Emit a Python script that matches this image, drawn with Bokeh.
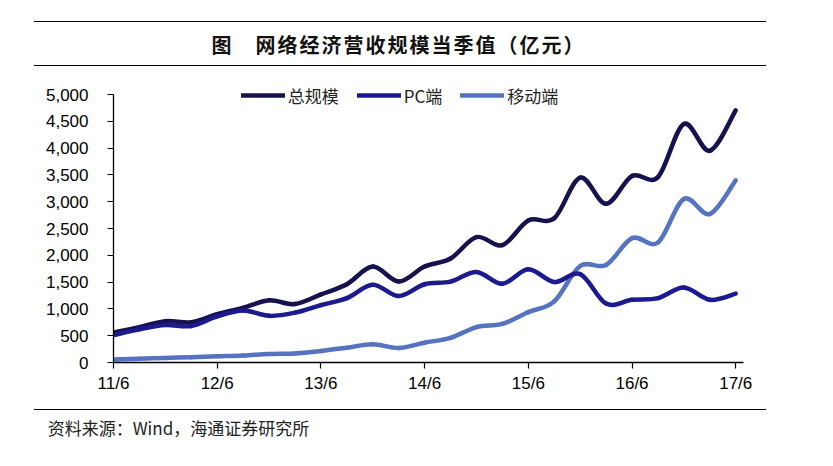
from bokeh.plotting import figure
from bokeh.layouts import column
from bokeh.models import (Range1d, FixedTicker, NumeralTickFormatter, Legend,
                          LegendItem, Div)
from bokeh.embed import file_html
from bokeh.resources import INLINE

# ---------------- data ----------------
quarters = ["11/6", "11/9", "11/12", "12/3", "12/6", "12/9", "12/12", "13/3",
            "13/6", "13/9", "13/12", "14/3", "14/6", "14/9", "14/12", "15/3",
            "15/6", "15/9", "15/12", "16/3", "16/6", "16/9", "16/12", "17/3", "17/6"]
total = [560, 660, 770, 750, 900, 1020, 1160, 1090, 1270, 1460, 1790, 1510, 1790,
         1940, 2340, 2190, 2650, 2690, 3450, 2960, 3480, 3460, 4450, 3950, 4705]
pc = [510, 620, 700, 680, 860, 970, 870, 930, 1070, 1200, 1450, 1240, 1460,
      1510, 1690, 1470, 1740, 1500, 1650, 1100, 1170, 1200, 1400, 1170, 1285]
mobile = [55, 70, 85, 100, 115, 130, 160, 170, 215, 275, 340, 270, 370,
          460, 660, 720, 940, 1140, 1800, 1820, 2320, 2240, 3050, 2770, 3400]
tick_labels = ["11/6", "12/6", "13/6", "14/6", "15/6", "16/6", "17/6"]
y_ticks = [0, 500, 1000, 1500, 2000, 2500, 3000, 3500, 4000, 4500, 5000]
series_names = ["总规模", "PC端", "移动端"]
title_text = "图　网络经济营收规模当季值（亿元）"
source_text = "资料来源：Wind，海通证券研究所"

colors = {"总规模": "#15124e", "PC端": "#1b1a8e", "移动端": "#5573c0"}

W = 817
CJK = "Noto Sans CJK SC"

# ---------------- header (title between two rules) ----------------
HH = 80
header_html = (
    f'<div style="position:relative;width:{W}px;height:{HH}px;background:white;">'
    '<div style="position:absolute;left:34px;top:20.6px;width:732px;height:0;'
    'border-top:1.4px solid #000;"></div>'
    '<div style="position:absolute;left:34px;top:64.6px;width:732px;height:0;'
    'border-top:1.4px solid #000;"></div>'
    '<div style="position:absolute;left:0;top:32px;width:797px;text-align:center;'
    f"line-height:25px;font-family:'{CJK}';font-size:20px;font-weight:bold;"
    f'letter-spacing:2px;color:#111;white-space:nowrap;">{title_text}</div>'
    '</div>'
)
head = Div(text=header_html, width=W, height=HH, margin=0)

# ---------------- main chart ----------------
MH = 320            # page y 80 .. 400
FRAME_TOP = 80      # page y of frame top (room for legend above the 5000 line)
Y_TOP_PX, Y_ZERO_PX = 94, 362
y_max = y_ticks[-1]
y_end = y_max * (Y_ZERO_PX - FRAME_TOP) / (Y_ZERO_PX - Y_TOP_PX)

p = figure(width=W, height=MH, output_backend="svg", toolbar_location=None,
           x_range=Range1d(0, 24.3), y_range=Range1d(0, y_end),
           min_border_left=113, min_border_right=W - 743,
           min_border_top=FRAME_TOP - 80,
           min_border_bottom=MH - (Y_ZERO_PX - 80), margin=0)
p.outline_line_color = None
p.xgrid.grid_line_color = None
p.ygrid.grid_line_color = None
p.background_fill_color = "white"
p.border_fill_color = "white"

xs = list(range(len(quarters)))


def bezier_parts(x, y):
    n = len(x)
    out = dict(x0=[], y0=[], x1=[], y1=[], cx0=[], cy0=[], cx1=[], cy1=[])
    for i in range(n - 1):
        im = max(i - 1, 0)
        ip2 = min(i + 2, n - 1)
        out["x0"].append(x[i]); out["y0"].append(y[i])
        out["x1"].append(x[i + 1]); out["y1"].append(y[i + 1])
        out["cx0"].append(x[i] + (x[i + 1] - x[im]) / 6.0)
        out["cy0"].append(y[i] + (y[i + 1] - y[im]) / 6.0)
        out["cx1"].append(x[i + 1] - (x[ip2] - x[i]) / 6.0)
        out["cy1"].append(y[i + 1] - (y[ip2] - y[i]) / 6.0)
    return out


renderers = {}
for name, vals in [("移动端", mobile), ("总规模", total), ("PC端", pc)]:
    parts = bezier_parts(xs, vals)
    renderers[name] = p.bezier(line_color=colors[name], line_width=4.5,
                               line_cap="round", **parts)

tick_pos = [quarters.index(t) for t in tick_labels]
p.xaxis.ticker = FixedTicker(ticks=tick_pos)
p.xaxis.major_label_overrides = {pos: lab for pos, lab in zip(tick_pos, tick_labels)}
p.yaxis.ticker = FixedTicker(ticks=y_ticks)
p.yaxis.formatter = NumeralTickFormatter(format="0,0")
p.yaxis.bounds = (0, y_max)
for ax in (p.xaxis, p.yaxis):
    ax.axis_line_color = "black"
    ax.axis_line_width = 1.3
    ax.major_tick_line_color = "black"
    ax.major_tick_line_width = 1.2
    ax.major_tick_in = 0
    ax.major_tick_out = 6
    ax.minor_tick_line_color = None
    ax.major_label_text_font = "Liberation Sans"
    ax.major_label_text_font_size = "17px"
    ax.major_label_text_color = "black"
p.yaxis.major_label_standoff = 19
p.xaxis.major_label_standoff = 5

legend = Legend(items=[LegendItem(label=n, renderers=[renderers[n]]) for n in series_names],
                orientation="horizontal", location=(127.7, 254.3),
                glyph_width=44, glyph_height=14, label_height=14, label_standoff=3,
                spacing=18, padding=0, margin=0, border_line_color=None,
                background_fill_alpha=0, label_text_font=CJK,
                label_text_font_size="17px", label_text_color="#222222")
p.add_layout(legend)

# ---------------- footer (rule + source) ----------------
FH = 50  # page y 400 .. 450
footer_html = (
    f'<div style="position:relative;width:{W}px;height:{FH}px;background:white;">'
    '<div style="position:absolute;left:34px;top:8.6px;width:732px;height:0;'
    'border-top:1.4px solid #000;"></div>'
    '<div style="position:absolute;left:47.7px;top:16.5px;line-height:21px;'
    f"font-family:'{CJK}';font-size:17px;color:#222;white-space:nowrap;\">"
    f'{source_text}</div>'
    '</div>'
)
foot = Div(text=footer_html, width=W, height=FH, margin=0)

layout = column(head, p, foot, spacing=0)
open("out.html", "w").write(file_html(layout, INLINE))
